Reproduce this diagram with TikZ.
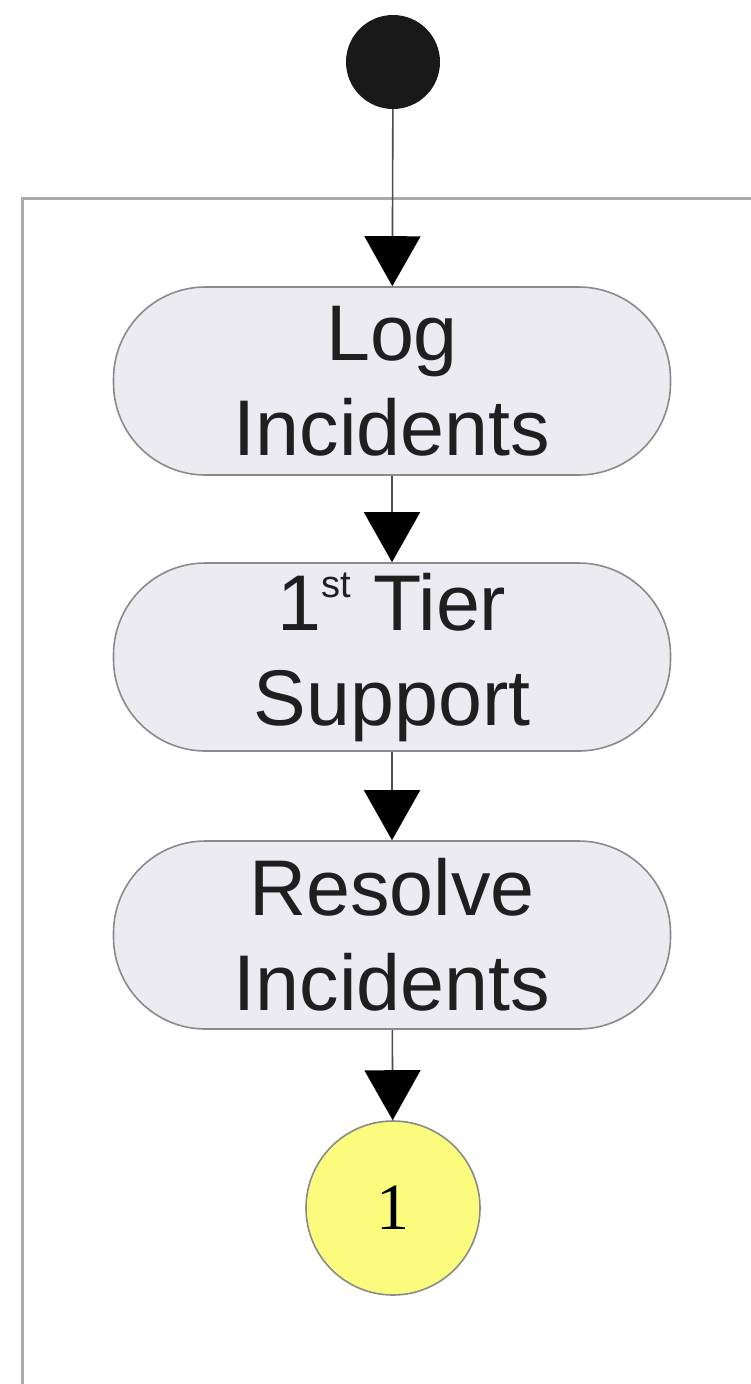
\documentclass[tikz,border=0pt]{standalone}
\usepackage{fontspec}
\setmainfont{Liberation Sans}
\newfontfamily\numfont{Liberation Serif}
\usetikzlibrary{arrows.meta}
\definecolor{actfill}{HTML}{EDEBF2}
\definecolor{actline}{HTML}{8A8A8A}
\definecolor{framegray}{HTML}{ABABAB}
\definecolor{connfill}{HTML}{FBFB7E}
\newcommand{\ordsup}[1]{\raisebox{0.42em}{\fontsize{38}{38}\selectfont #1}}
\tikzset{
  x=1pt, y=-1pt,
  activity/.style={draw=actline, line width=1.6pt, fill=actfill,
    rounded corners=92pt, minimum width=557pt, minimum height=188pt,
    inner sep=0pt, align=center, text=black!88,
    font=\fontsize{79}{95}\selectfont},
  flow/.style={draw=black!70, line width=1.6pt,
    -{Triangle[length=50pt,width=56pt,fill=black,color=black]}},
}
\begin{document}
\begin{tikzpicture}
  \useasboundingbox (0,0) rectangle (751,1384);
  % swimlane frame
  \draw[framegray, line width=3pt] (22,1390) -- (22,198) -- (760,198);
  % initial state
  \node[circle, fill=black!90, minimum size=94pt, inner sep=0pt] (start) at (393,62) {};
  % activities
  \node[activity] (log) at (392,381) {Log\\Incidents};
  \node[activity] (tier) at (392,657) {1\ordsup{st} Tier\\Support};
  \node[activity] (resolve) at (392,935) {Resolve\\Incidents};
  % off-page connector
  \node[circle, draw=actline, line width=1.6pt, fill=connfill, minimum size=174pt,
        inner sep=0pt, font=\numfont\fontsize{66}{66}\selectfont] (conn) at (393,1208) {1};
  % control flows
  \draw[flow] (start) -- (log);
  \draw[flow] (log) -- (tier);
  \draw[flow] (tier) -- (resolve);
  \draw[flow] (resolve) -- (conn);
\end{tikzpicture}
\end{document}
